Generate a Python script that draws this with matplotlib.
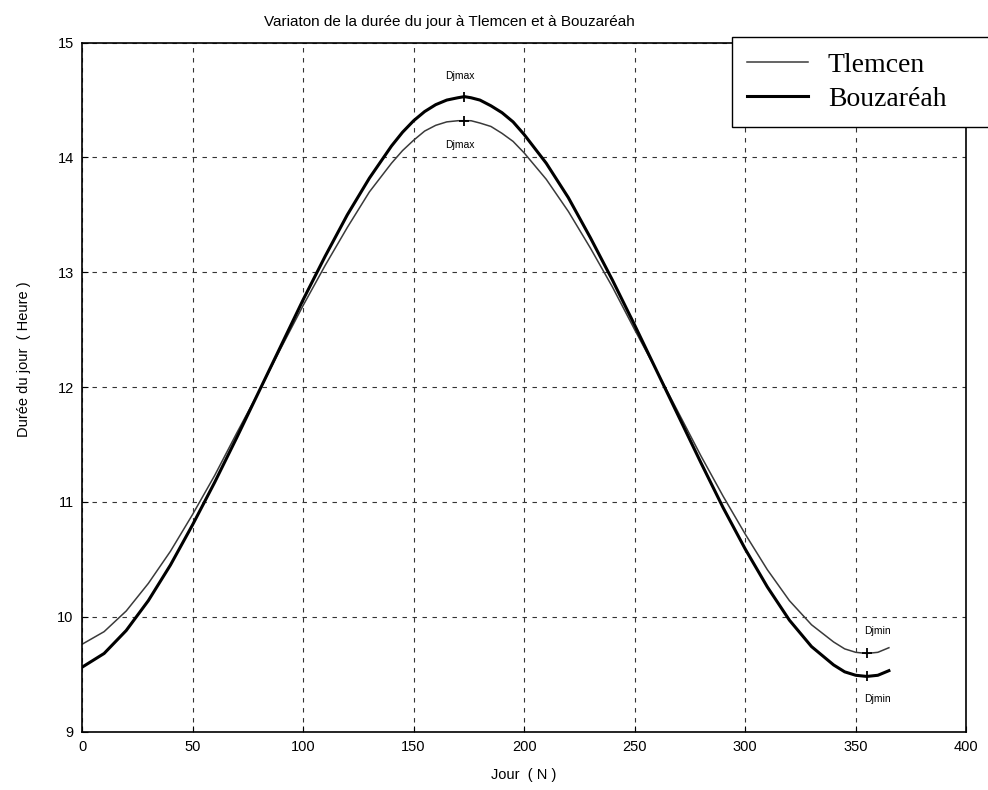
import numpy as np
import matplotlib
matplotlib.use("Agg")
import matplotlib.pyplot as plt

# jours et durée du jour (heures)
jours = [0, 10, 20, 30, 40, 50, 60, 70, 80, 90, 100, 110, 120, 130, 140, 145, 150, 155, 160,
         165, 170, 173, 176, 180, 185, 190, 195, 200, 210, 220, 230, 240, 250, 260, 270, 280,
         290, 300, 310, 320, 330, 340, 345, 350, 355, 360, 365]
tlemcen = [9.76, 9.87, 10.05, 10.29, 10.57, 10.89, 11.23, 11.60, 11.96, 12.34, 12.71, 13.06,
           13.39, 13.70, 13.95, 14.06, 14.15, 14.23, 14.28, 14.31, 14.32, 14.32, 14.32, 14.30,
           14.27, 14.21, 14.14, 14.04, 13.81, 13.53, 13.21, 12.87, 12.50, 12.14, 11.77, 11.40,
           11.05, 10.72, 10.41, 10.14, 9.93, 9.78, 9.72, 9.69, 9.68, 9.69, 9.73]
bouzareah = [9.56, 9.68, 9.88, 10.14, 10.45, 10.80, 11.17, 11.56, 11.96, 12.36, 12.76, 13.14,
             13.50, 13.82, 14.10, 14.22, 14.32, 14.40, 14.46, 14.50, 14.52, 14.53, 14.52, 14.50,
             14.45, 14.39, 14.31, 14.20, 13.95, 13.65, 13.30, 12.93, 12.54, 12.14, 11.74, 11.34,
             10.95, 10.59, 10.26, 9.97, 9.74, 9.58, 9.52, 9.49, 9.48, 9.49, 9.53]
x_ticks = [0, 50, 100, 150, 200, 250, 300, 350, 400]
y_ticks = [9, 10, 11, 12, 13, 14, 15]

plt.rcParams['font.family'] = ['Liberation Sans', 'DejaVu Sans']

fig = plt.figure(figsize=(9.88, 7.9), dpi=100)
ax = fig.add_axes([0.083, 0.074, 0.895, 0.872])

l1, = ax.plot(jours, tlemcen, color='#3a3a3a', lw=1.1)
l2, = ax.plot(jours, bouzareah, color='black', lw=2.2)

# max / min
i_max = jours.index(173)
i_min = jours.index(355)
ax.plot([jours[i_max]], [tlemcen[i_max]], '+', color='black', ms=7, mew=1.3)
ax.plot([jours[i_max]], [bouzareah[i_max]], '+', color='black', ms=7, mew=1.3)
ax.plot([jours[i_min]], [tlemcen[i_min]], '+', color='black', ms=7, mew=1.3)
ax.plot([jours[i_min]], [bouzareah[i_min]], '+', color='black', ms=7, mew=1.3)
ax.text(jours[i_max] - 2, bouzareah[i_max] + 0.15, 'Djmax', fontsize=7.5, ha='center')
ax.text(jours[i_max] - 2, tlemcen[i_max] - 0.24, 'Djmax', fontsize=7.5, ha='center')
ax.text(jours[i_min] - 1, tlemcen[i_min] + 0.17, 'Djmin', fontsize=7.5, ha='left')
ax.text(jours[i_min] - 1, bouzareah[i_min] - 0.22, 'Djmin', fontsize=7.5, ha='left')

ax.set_xlim(0, 400)
ax.set_ylim(9, 15)
ax.set_xticks(x_ticks)
ax.set_yticks(y_ticks)
ax.tick_params(direction='in', length=4, labelsize=10.5, pad=6)
ax.grid(True, color='#333333', ls=(0, (4, 5)), lw=0.8)
for s in ax.spines.values():
    s.set_linewidth(1.2)

ax.set_xlabel('Jour  ( N )', fontsize=10.5, labelpad=10)
ax.set_ylabel('Durée du jour  ( Heure )', fontsize=10.5)
ax.yaxis.set_label_coords(-0.058, 0.54)
fig.text(0.455, 0.972, 'Variaton de la durée du jour à Tlemcen et à Bouzaréah',
         fontsize=11, ha='center', va='center')

# légende qui déborde à droite de la figure, comme sur l'original
leg = fig.legend([l1, l2], ['Tlemcen', 'Bouzaréah'], loc='upper left', mode='expand',
                 bbox_to_anchor=(0.741, 0.84, 0.30, 0.113),
                 prop={'family': 'Liberation Serif', 'size': 20},
                 frameon=True, fancybox=False, edgecolor='black', framealpha=1.0,
                 handlelength=2.2, handletextpad=0.7, borderpad=0.55, labelspacing=0.3,
                 borderaxespad=0)
leg.get_frame().set_linewidth(1.0)

fig.savefig('out.png', dpi=100)
